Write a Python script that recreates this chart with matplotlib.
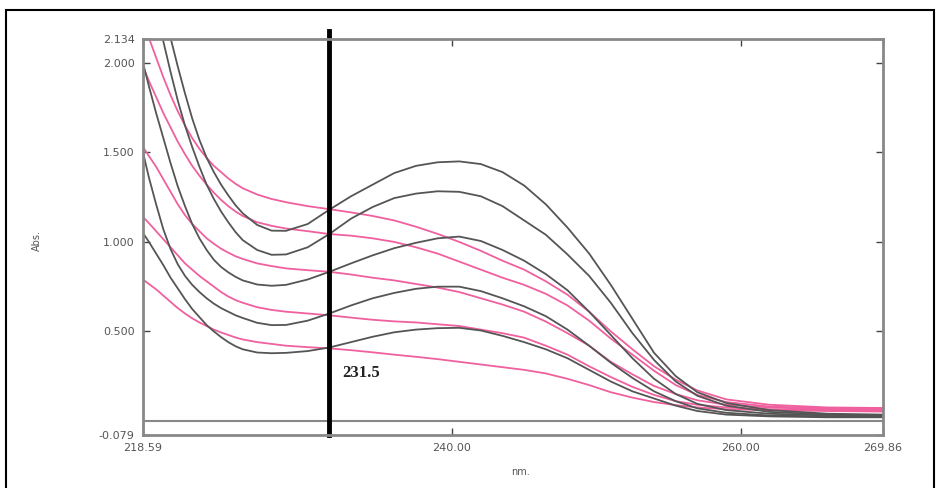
import matplotlib
matplotlib.use("Agg")
import matplotlib.pyplot as plt
from matplotlib.patches import Rectangle

# wavelength grid (nm)
wl = [218.59, 219.0, 219.5, 220.0, 220.5, 221.0, 221.5, 222.0, 222.5, 223.0,
      223.5, 224.0, 224.5, 225.0, 225.5, 226.5, 227.5, 228.5, 230.0, 231.5,
      233.0, 234.5, 236.0, 237.5, 239.0, 240.5, 242.0, 243.5, 245.0, 246.5,
      248.0, 249.5, 251.0, 252.5, 254.0, 255.5, 257.0, 259.0, 262.0, 266.0,
      269.86]

# black (gray) spectra, top to bottom
black_1 = [2.75, 2.62, 2.46, 2.30, 2.14, 1.98, 1.83, 1.69, 1.57, 1.47,
           1.39, 1.32, 1.26, 1.205, 1.16, 1.095, 1.063, 1.062, 1.10, 1.18,
           1.255, 1.32, 1.385, 1.425, 1.445, 1.45, 1.435, 1.39, 1.315, 1.21,
           1.08, 0.935, 0.76, 0.57, 0.38, 0.25, 0.16, 0.10, 0.06, 0.04,
           0.035]
black_2 = [2.60, 2.47, 2.30, 2.12, 1.95, 1.79, 1.65, 1.53, 1.42, 1.32,
           1.24, 1.17, 1.11, 1.055, 1.01, 0.955, 0.928, 0.93, 0.97, 1.044,
           1.13, 1.195, 1.245, 1.27, 1.283, 1.28, 1.255, 1.20, 1.12, 1.04,
           0.93, 0.81, 0.66, 0.49, 0.34, 0.22, 0.14, 0.085, 0.05, 0.035,
           0.03]
black_3 = [2.00, 1.87, 1.72, 1.58, 1.44, 1.31, 1.20, 1.10, 1.02, 0.955,
           0.90, 0.86, 0.83, 0.805, 0.785, 0.762, 0.755, 0.76, 0.79, 0.833,
           0.88, 0.925, 0.965, 0.995, 1.02, 1.03, 1.005, 0.955, 0.895, 0.82,
           0.73, 0.61, 0.48, 0.35, 0.235, 0.15, 0.095, 0.06, 0.04, 0.03,
           0.03]
black_4 = [1.50, 1.36, 1.21, 1.07, 0.96, 0.875, 0.81, 0.76, 0.72, 0.685,
           0.655, 0.63, 0.61, 0.59, 0.575, 0.548, 0.535, 0.536, 0.56, 0.60,
           0.645, 0.685, 0.715, 0.738, 0.75, 0.75, 0.725, 0.685, 0.64, 0.585,
           0.51, 0.42, 0.325, 0.24, 0.165, 0.11, 0.07, 0.045, 0.03, 0.025,
           0.025]
black_5 = [1.05, 1.00, 0.935, 0.87, 0.80, 0.74, 0.68, 0.625, 0.58, 0.535,
           0.50, 0.468, 0.44, 0.417, 0.40, 0.382, 0.378, 0.38, 0.39, 0.41,
           0.44, 0.47, 0.495, 0.51, 0.518, 0.52, 0.505, 0.475, 0.44, 0.40,
           0.35, 0.285, 0.22, 0.165, 0.125, 0.085, 0.055, 0.035, 0.025, 0.02,
           0.02]

# pink spectra, top to bottom
pink_1 = [2.25, 2.14, 2.03, 1.92, 1.82, 1.73, 1.65, 1.58, 1.52, 1.47,
          1.425, 1.39, 1.355, 1.325, 1.30, 1.265, 1.24, 1.222, 1.20, 1.183,
          1.165, 1.145, 1.12, 1.085, 1.045, 1.00, 0.95, 0.895, 0.845, 0.78,
          0.705, 0.61, 0.50, 0.40, 0.305, 0.23, 0.17, 0.12, 0.09, 0.075,
          0.072]
pink_2 = [1.98, 1.90, 1.81, 1.72, 1.64, 1.56, 1.49, 1.425, 1.37, 1.32,
          1.275, 1.235, 1.20, 1.17, 1.145, 1.11, 1.09, 1.075, 1.06, 1.044,
          1.035, 1.02, 1.00, 0.97, 0.935, 0.89, 0.845, 0.80, 0.76, 0.71,
          0.645, 0.56, 0.46, 0.37, 0.28, 0.20, 0.145, 0.105, 0.08, 0.07,
          0.068]
pink_3 = [1.53, 1.48, 1.42, 1.35, 1.28, 1.21, 1.15, 1.10, 1.06, 1.02,
          0.99, 0.962, 0.94, 0.92, 0.905, 0.88, 0.865, 0.852, 0.842, 0.833,
          0.818, 0.80, 0.785, 0.765, 0.745, 0.72, 0.685, 0.65, 0.61, 0.555,
          0.49, 0.42, 0.33, 0.26, 0.195, 0.15, 0.115, 0.09, 0.075, 0.065,
          0.062]
pink_4 = [1.14, 1.105, 1.06, 1.015, 0.97, 0.925, 0.88, 0.845, 0.81, 0.78,
          0.75, 0.72, 0.695, 0.675, 0.66, 0.635, 0.62, 0.61, 0.60, 0.59,
          0.577, 0.565, 0.556, 0.55, 0.54, 0.53, 0.51, 0.49, 0.465, 0.42,
          0.37, 0.305, 0.245, 0.19, 0.145, 0.11, 0.09, 0.075, 0.065, 0.06,
          0.058]
pink_5 = [0.79, 0.765, 0.735, 0.70, 0.665, 0.63, 0.60, 0.573, 0.55, 0.53,
          0.51, 0.494, 0.48, 0.466, 0.455, 0.44, 0.43, 0.42, 0.412, 0.405,
          0.395, 0.383, 0.37, 0.358, 0.345, 0.33, 0.315, 0.30, 0.285, 0.265,
          0.235, 0.20, 0.16, 0.13, 0.105, 0.088, 0.075, 0.065, 0.06, 0.055,
          0.052]

black_curves = [black_1, black_2, black_3, black_4, black_5]
pink_curves = [pink_1, pink_2, pink_3, pink_4, pink_5]

x_min, x_max = 218.59, 269.86
y_min, y_max = -0.079, 2.134
x_ticks = [218.59, 240.00, 260.00, 269.86]
x_labels = ["218.59", "240.00", "260.00", "269.86"]
y_ticks = [-0.079, 0.5, 1.0, 1.5, 2.0, 2.134]
y_labels = ["-0.079", "0.500", "1.000", "1.500", "2.000", "2.134"]
marker_wl = 231.5

fig = plt.figure(figsize=(9.4, 4.88), dpi=100)
fig.patches.append(Rectangle((6 / 940, -0.01), 928 / 940, 1 - 10 / 488 + 0.01,
                             transform=fig.transFigure, fill=False,
                             edgecolor="black", linewidth=1.5))

ax = fig.add_axes([143 / 940, (488 - 435) / 488, 740 / 940, 396 / 488])

for c in pink_curves:
    ax.plot(wl, c, color="#f0609e", lw=1.3, solid_joinstyle="round")
for c in black_curves:
    ax.plot(wl, c, color="#555555", lw=1.3, solid_joinstyle="round")

ax.axhline(0, color="#888888", lw=1.5)
ax.axvline(marker_wl, ymin=0, ymax=1.02, color="black", lw=3.5, clip_on=False)
ax.text(marker_wl + 0.9, 0.27, "231.5", fontsize=12, fontweight="bold",
        family="Liberation Serif", color="#222222", va="center", ha="left")

ax.set_xlim(x_min, x_max)
ax.set_ylim(y_min, y_max)
ax.set_xticks(x_ticks)
ax.set_xticklabels(x_labels)
ax.set_yticks(y_ticks)
ax.set_yticklabels(y_labels)
ax.tick_params(direction="in", length=5, width=1, colors="#444444",
               labelsize=8, top=True, right=True, pad=6)
for lab in ax.get_xticklabels() + ax.get_yticklabels():
    lab.set_color("#555555")
for s in ax.spines.values():
    s.set_color("#888888")
    s.set_linewidth(2)

ax.set_xlabel("nm.", fontsize=7, color="#555555")
ax.xaxis.set_label_coords(0.51, -0.08)
ax.set_ylabel("Abs.", fontsize=7, color="#555555")
ax.yaxis.set_label_coords(-0.137, 0.49)

fig.savefig("out.png", dpi=100)
